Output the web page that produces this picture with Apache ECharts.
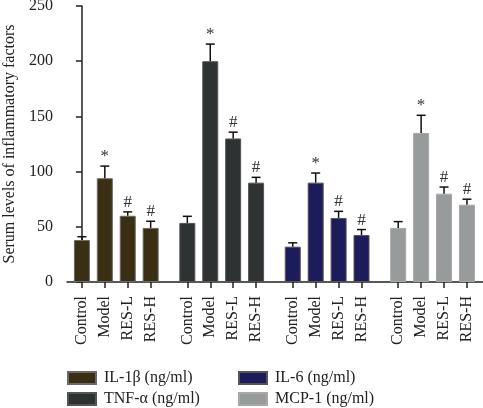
<!DOCTYPE html>
<html>
<head>
<meta charset="utf-8">
<script src="https://cdn.jsdelivr.net/npm/echarts@6/dist/echarts.min.js"></script>
<style>html,body{margin:0;padding:0;background:#fff}#c{width:483px;height:408px}</style>
</head>
<body>
<div id="c"></div>
<script>
var groupLabels = ['Control', 'Model', 'RES-L', 'RES-H'];
var seriesNames = ['IL-1β (ng/ml)', 'TNF-α (ng/ml)', 'IL-6 (ng/ml)', 'MCP-1 (ng/ml)'];
var il1b = [38, 94, 60, 49];
var tnfa = [53.5, 200, 130, 90];
var il6 = [32, 90, 58, 42.5];
var mcp1 = [49, 135, 80, 70];
var il1bErr = [3, 11, 3.5, 6];
var tnfaErr = [6, 15.5, 5.7, 4.8];
var il6Err = [3.5, 8.7, 6, 5];
var mcp1Err = [5.7, 16, 6, 5];
var marks = ['', '*', '#', '#'];
var yTicks = [0, 50, 100, 150, 200, 250];

var values = [il1b, tnfa, il6, mcp1];
var errs = [il1bErr, tnfaErr, il6Err, mcp1Err];
var colors = ['#3a2f12', '#2f3233', '#1c1c5c', '#979b9b'];
var borders = ['#6a6a6a', '#555', '#555', '#a8a8a8'];
var GROUP_STEP = 4.6;

var positions = [], posLabels = [];
for (var g = 0; g < 4; g++) {
  for (var i = 0; i < 4; i++) {
    positions.push(g * GROUP_STEP + i);
    posLabels.push(groupLabels[i]);
  }
}
function labelFor(v) {
  for (var k = 0; k < positions.length; k++) if (Math.abs(positions[k] - v) < 1e-6) return posLabels[k];
  return '';
}

var font = 'Liberation Serif';
var series = [];
for (var g = 0; g < 4; g++) {
  var data = [], edata = [];
  for (var i = 0; i < 4; i++) {
    data.push([g * GROUP_STEP + i, values[g][i]]);
    edata.push([g * GROUP_STEP + i, values[g][i], errs[g][i], marks[i]]);
  }
  series.push({
    name: seriesNames[g], type: 'bar', data: data, barWidth: 16, barGap: '-100%',
    itemStyle: { color: colors[g], borderColor: borders[g], borderWidth: 1 },
    emphasis: { disabled: true }
  });
  series.push({
    type: 'custom', data: edata, silent: true, z: 5,
    renderItem: function (params, api) {
      var x = api.value(0), v = api.value(1), e = api.value(2);
      var mk = api.value(3);
      var p0 = api.coord([x, v]);
      var p1 = api.coord([x, v + e]);
      var children = [
        { type: 'line', shape: { x1: p0[0], y1: p0[1], x2: p1[0], y2: p1[1] }, style: { stroke: '#111', lineWidth: 1.5 } },
        { type: 'line', shape: { x1: p1[0] - 4.5, y1: p1[1], x2: p1[0] + 4.5, y2: p1[1] }, style: { stroke: '#111', lineWidth: 1.5 } }
      ];
      if (mk) {
        children.push({ type: 'text', style: { text: mk, x: p1[0], y: p1[1] - 1, align: 'center', verticalAlign: 'bottom', font: '17px "' + font + '"', fill: '#333' } });
      }
      return { type: 'group', children: children };
    }
  });
}

function legendFor(k, left, top) {
  return {
    data: [seriesNames[k]], left: left, top: top, itemWidth: 28, itemHeight: 12, padding: 0,
    textStyle: { fontFamily: font, fontSize: 16, color: '#222', padding: [0, 0, 0, 3] }, selectedMode: false, icon: 'rect'
  };
}

var chart = echarts.init(document.getElementById('c'));
chart.setOption({
  animation: false,
  grid: { left: 67, right: 0, top: 6, bottom: 126, containLabel: false, outerBoundsMode: 'none' },
  xAxis: {
    type: 'value', min: -0.65, max: 17.5,
    splitLine: { show: false },
    axisLine: { show: true, lineStyle: { color: '#222', width: 1.5 } },
    axisTick: { show: true, length: 6, lineStyle: { color: '#222', width: 1.5 }, customValues: positions },
    axisLabel: { rotate: 90, margin: 14, customValues: positions, formatter: labelFor, fontFamily: font, fontSize: 16, color: '#222' }
  },
  yAxis: {
    type: 'value', min: yTicks[0], max: yTicks[yTicks.length - 1], interval: 50,
    name: 'Serum levels of inflammatory factors', nameLocation: 'middle', nameGap: 47,
    nameTextStyle: { fontFamily: font, fontSize: 16, color: '#222' },
    splitLine: { show: false },
    axisLine: { show: true, lineStyle: { color: '#222', width: 1.5 } },
    axisTick: { show: true, length: 6, lineStyle: { color: '#222', width: 1.5 } },
    axisLabel: { margin: 14, fontFamily: font, fontSize: 16, color: '#222' }
  },
  legend: [
    legendFor(0, 67, 370),
    legendFor(1, 67, 391),
    legendFor(2, 238, 370),
    legendFor(3, 238, 391)
  ],
  series: series
});
</script>
</body>
</html>
